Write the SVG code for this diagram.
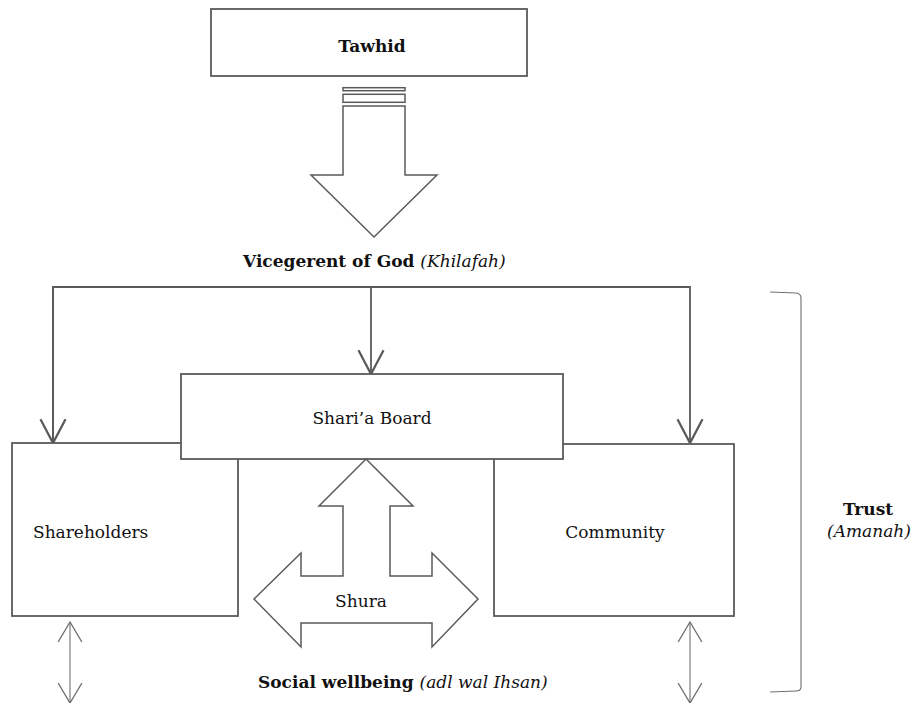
<svg xmlns="http://www.w3.org/2000/svg" width="920" height="703" viewBox="0 0 920 703">
<style>
  .box { fill: #fff; stroke: #5a5a5a; stroke-width: 1.8; }
  .shape { fill: #fff; stroke: #5a5a5a; stroke-width: 1.5; stroke-linejoin: miter; }
  .conn { fill: none; stroke: #5a5a5a; stroke-width: 1.8; }
  .thin { fill: none; stroke: #707070; stroke-width: 1.1; }
  text { font-family: "DejaVu Serif", "Liberation Serif", serif; font-size: 17px; fill: #111; }
  .b { font-weight: bold; }
  .i { font-style: italic; font-weight: normal; }
</style>
<defs>
  <marker id="vhead" markerUnits="userSpaceOnUse" markerWidth="30" markerHeight="30" viewBox="-22 -12 24 24" refX="0" refY="0" orient="auto">
    <path d="M-19,-10 L0,0 L-19,10" fill="none" stroke="#5a5a5a" stroke-width="1.8"/>
  </marker>
  <marker id="shead" markerUnits="userSpaceOnUse" markerWidth="30" markerHeight="30" viewBox="-20 -12 22 24" refX="0" refY="0" orient="auto-start-reverse">
    <path d="M-16,-9.5 L0,0 L-16,9.5" fill="none" stroke="#707070" stroke-width="1.1"/>
  </marker>
</defs>

<g id="connectors">
  <path class="conn" d="M53,443 L53,287 L690,287 L690,443" marker-end="url(#vhead)"/>
  <path class="conn" d="M53,287 L53,443" marker-end="url(#vhead)"/>
  <path class="conn" d="M371,287 L371,374" marker-end="url(#vhead)"/>
  <line class="thin" x1="70" y1="622" x2="70" y2="703" marker-start="url(#shead)" marker-end="url(#shead)"/>
  <line class="thin" x1="690" y1="622" x2="690" y2="703" marker-start="url(#shead)" marker-end="url(#shead)"/>
</g>

<g id="tawhid">
  <rect class="box" x="211" y="9" width="316" height="67"/>
  <text class="b" x="372" y="52" text-anchor="middle">Tawhid</text>
</g>

<g id="down-arrow">
  <rect class="shape" x="343" y="87.7" width="62" height="3"/>
  <rect class="shape" x="343" y="94.3" width="62" height="8"/>
  <path class="shape" d="M343,106 L405,106 L405,175 L437,175 L374,237 L311,175 L343,175 Z"/>
</g>

<g id="vicegerent">
  <text class="b" x="243" y="267">Vicegerent of God <tspan class="i">(Khilafah)</tspan></text>
</g>

<g id="shareholders">
  <rect class="box" x="12" y="443" width="226" height="173"/>
  <text x="33" y="538">Shareholders</text>
</g>

<g id="community">
  <rect class="box" x="494" y="444" width="240" height="172"/>
  <text x="615" y="538" text-anchor="middle">Community</text>
</g>

<g id="sharia-board">
  <rect class="box" x="181" y="374" width="382" height="85"/>
  <text x="372" y="424" text-anchor="middle">Shari’a Board</text>
</g>

<g id="shura">
  <path class="shape" d="M366,459 L413,506 L390,506 L390,576 L432,576 L432,553 L478,599 L432,647 L432,623 L301,623 L301,647 L254,599 L301,553 L301,576 L343,576 L343,506 L319,506 Z"/>
  <text x="361" y="607" text-anchor="middle">Shura</text>
</g>

<g id="social-wellbeing">
  <text class="b" x="258" y="688">Social wellbeing <tspan class="i">(adl wal Ihsan)</tspan></text>
</g>

<g id="trust">
  <path class="thin" d="M770,292 L796,293 Q801,293.5 801,298 L801,687 Q801,691 796,691 L770,692"/>
  <text class="b" x="868" y="515" text-anchor="middle">Trust</text>
  <text class="i" x="869" y="537" text-anchor="middle">(Amanah)</text>
</g>
</svg>
